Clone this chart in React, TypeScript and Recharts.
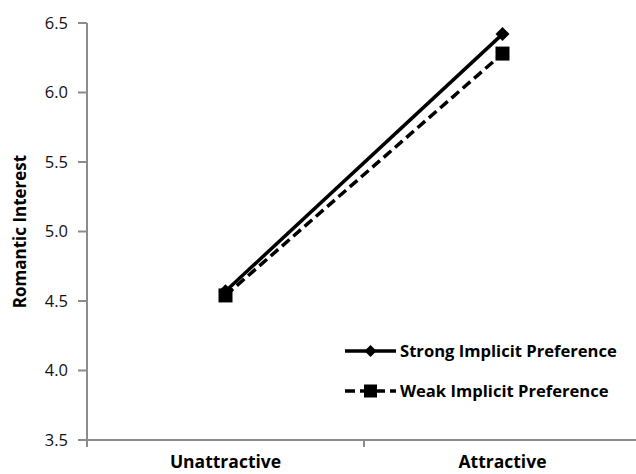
import React from 'react';
import {
  LineChart,
  Line,
  XAxis,
  YAxis,
} from 'recharts';

const categories = ['Unattractive', 'Attractive'];
const strongValues = [4.57, 6.42];
const weakValues = [4.54, 6.28];
const yTicks = [3.5, 4.0, 4.5, 5.0, 5.5, 6.0, 6.5];
const seriesNames = ['Strong Implicit Preference', 'Weak Implicit Preference'];

const data = categories.map((name, i) => ({
  pos: i + 0.5,
  name,
  strong: strongValues[i],
  weak: weakValues[i],
}));

const FONT = '"Open Sans", "Noto Sans", sans-serif';
const AXIS = '#8c8c8c';

const Diamond = (props: any) => {
  const { cx, cy, size = 7 } = props;
  if (cx == null || cy == null) return null;
  return (
    <path
      d={`M${cx},${cy - size} L${cx + size},${cy} L${cx},${cy + size} L${cx - size},${cy} Z`}
      fill="#000"
    />
  );
};

const Square = (props: any) => {
  const { cx, cy, size = 7 } = props;
  if (cx == null || cy == null) return null;
  return <rect x={cx - size} y={cy - size} width={size * 2} height={size * 2} fill="#000" />;
};

// edge ticks get a short mark, centre ticks get the category name
const XTick = (props: any) => {
  const { x, y, payload } = props;
  const v = payload.value;
  if (Number.isInteger(v)) {
    return <line x1={x} y1={y} x2={x} y2={y + 7} stroke={AXIS} strokeWidth={2} />;
  }
  return (
    <text
      x={x}
      y={y + 28}
      textAnchor="middle"
      fontFamily={FONT}
      fontWeight="bold"
      fontSize={17.5}
      fill="#000"
    >
      {categories[Math.floor(v)]}
    </text>
  );
};

const LegendBox = () => {
  const rows = [
    { label: seriesNames[0], dash: undefined, Marker: Diamond, size: 6 },
    { label: seriesNames[1], dash: '10 5', Marker: Square, size: 6.5 },
  ];
  return (
    <svg width={300} height={80} style={{ position: 'absolute', left: 343, top: 336 }}>
      {rows.map((r, i) => {
        const y = 15 + i * 40;
        return (
          <g key={r.label}>
            <line x1={2} y1={y} x2={53} y2={y} stroke="#000" strokeWidth={3.5} strokeDasharray={r.dash} />
            <r.Marker cx={27.5} cy={y} size={r.size} />
            <text
              x={57}
              y={y + 6}
              fontFamily={FONT}
              fontWeight="bold"
              fontSize={16.6}
              fill="#000"
            >
              {r.label}
            </text>
          </g>
        );
      })}
    </svg>
  );
};

export default function App() {
  return (
    <div
      style={{
        position: 'absolute',
        left: 0,
        top: 0,
        width: 636,
        height: 474,
        overflow: 'hidden',
        background: '#fff',
      }}
    >
      <LineChart
        width={641}
        height={474}
        data={data}
        margin={{ top: 23, right: 0, left: 0, bottom: 0 }}
      >
        <XAxis
          dataKey="pos"
          type="number"
          domain={[0, 2]}
          ticks={[0, 0.5, 1, 1.5, 2]}
          interval={0}
          height={34}
          tick={<XTick />}
          tickLine={false}
          tickSize={0}
          tickMargin={0}
          axisLine={{ stroke: AXIS, strokeWidth: 2 }}
        />
        <YAxis
          domain={[3.5, 6.5]}
          ticks={yTicks}
          interval={0}
          width={87}
          tickSize={9}
          tickMargin={10}
          tickFormatter={(v: number) => v.toFixed(1)}
          tick={{ fontFamily: FONT, fontSize: 16.5, fill: '#111' }}
          tickLine={{ stroke: AXIS, strokeWidth: 2 }}
          axisLine={{ stroke: AXIS, strokeWidth: 2 }}
          label={{
            content: ({ viewBox }: any) => {
              const cx = 19;
              const cy = viewBox.y + viewBox.height / 2;
              return (
                <text
                  x={cx}
                  y={cy}
                  transform={`rotate(-90 ${cx} ${cy})`}
                  textAnchor="middle"
                  dominantBaseline="central"
                  fontFamily={FONT}
                  fontWeight="bold"
                  fontSize={17}
                  fill="#000"
                >
                  Romantic Interest
                </text>
              );
            },
          }}
        />
        <Line
          type="linear"
          dataKey="strong"
          name={seriesNames[0]}
          stroke="#000"
          strokeWidth={3.5}
          dot={<Diamond size={7} />}
          activeDot={false}
          isAnimationActive={false}
        />
        <Line
          type="linear"
          dataKey="weak"
          name={seriesNames[1]}
          stroke="#000"
          strokeWidth={3.5}
          strokeDasharray="10 5"
          dot={<Square size={7} />}
          activeDot={false}
          isAnimationActive={false}
        />
      </LineChart>
      <LegendBox />
    </div>
  );
}
